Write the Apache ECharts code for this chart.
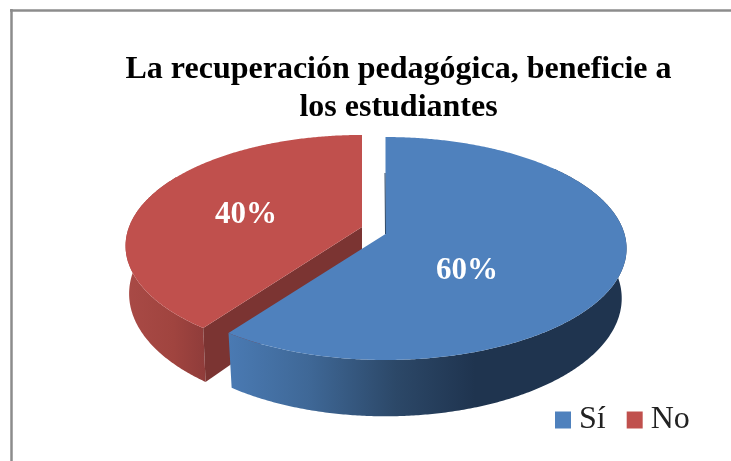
<!DOCTYPE html>
<html>
<head>
<meta charset="utf-8">
<style>html,body{margin:0;padding:0;background:#fff}#c{width:731px;height:461px}</style>
<script src="https://cdn.jsdelivr.net/npm/echarts@6/dist/echarts.min.js"></script>
</head>
<body>
<div id="c"></div>
<script>
const categories = ['Sí', 'No'];
const values = [60, 40];
const titleLines = ['La recuperación pedagógica, beneficie a', 'los estudiantes'];

const colors = ['#4F81BD', '#C0504D'];
const serif = '"Liberation Serif","Times New Roman",serif';
// perspective projection of each slice's disc on the screen
const proj = [
  {cx: 385.5, cy: 234, A: 239, B: 109.6, k: 0.13, depth: 49, shrink: 0.98, wall: [50, 216]},
  {cx: 362, cy: 227, A: 233, B: 107.7, k: 0.17, depth: 46.5, shrink: 0.985, wall: [216, 300]}
];
const labelPos = [[467, 271], [246, 215]];
const wallFill = [
  [[0, '#4A7AB3'], [0.2, '#3F6897'], [0.42, '#2C4868'], [0.62, '#1F344F'], [1, '#1F344F']],
  [[0, '#A94A46'], [0.6, '#A0443F'], [1, '#8F3C3A']]
];
const cutFill = ['#1F344F', '#7B3432'];

const total = values.reduce((a, b) => a + b, 0);
function sliceRange(i) {
  let s = 0;
  for (let j = 0; j < i; j++) s += values[j];
  return [s / total * 360, (s + values[i]) / total * 360];
}
function disc(p, u, v) {
  const d = 1 - p.k * v;
  return [p.cx + p.A * u / d, p.cy + p.B * v / d];
}
function rim(p, deg) {
  const t = deg * Math.PI / 180;
  return disc(p, Math.sin(t), -Math.cos(t));
}
function drop(p, u, v) {
  const d = 1 - p.k * v;
  return [p.cx + p.shrink * p.A * u / d, p.cy + p.B * v / d + p.depth / d];
}
function rimDrop(p, deg) {
  const t = deg * Math.PI / 180;
  return drop(p, Math.sin(t), -Math.cos(t));
}
function arc(fn, p, a, b) {
  const pts = [];
  const n = Math.ceil(Math.abs(b - a) * 2);
  for (let i = 0; i <= n; i++) pts.push(fn(p, a + (b - a) * i / n));
  return pts;
}
function renderSlice(i) {
  return function () {
    const p = proj[i];
    const [a, b] = sliceRange(i);
    const children = [];
    // outer wall
    const wallTop = arc(rim, p, p.wall[0], p.wall[1]);
    const wallBot = arc(rimDrop, p, p.wall[0], p.wall[1]).reverse();
    children.push({
      type: 'polygon',
      shape: {points: wallTop.concat(wallBot)},
      style: {fill: new echarts.graphic.LinearGradient(0, 0, 1, 0,
        wallFill[i].map(s => ({offset: s[0], color: s[1]})))}
    });
    // cut face of the exploded slice
    if (i === 1) {
      children.push({
        type: 'polygon',
        shape: {points: [disc(p, 0, 0), rim(p, a), rimDrop(p, a), drop(p, 0, 0)]},
        style: {fill: cutFill[i]}
      });
    }
    // top face
    children.push({
      type: 'polygon',
      shape: {points: [disc(p, 0, 0)].concat(arc(rim, p, a, b))},
      style: {fill: colors[i]}
    });
    if (i === 0) {
      const s = disc(p, 0, -0.6), e = disc(p, 0, 0);
      children.push({
        type: 'line',
        shape: {x1: s[0] - 0.5, y1: s[1], x2: e[0], y2: e[1]},
        style: {stroke: '#2C4868', lineWidth: 1}
      });
    }
    children.push({
      type: 'text',
      x: labelPos[i][0], y: labelPos[i][1],
      style: {
        text: values[i] + '%', fill: '#fff', font: 'bold 31px ' + serif,
        align: 'center', verticalAlign: 'middle'
      }
    });
    return {type: 'group', children};
  };
}

const chart = echarts.init(document.getElementById('c'), null, {renderer: 'canvas'});
chart.setOption({
  animation: false,
  backgroundColor: '#fff',
  color: colors,
  title: {
    text: titleLines.join('\n'),
    left: 398.5, top: 51, textAlign: 'center', padding: 0,
    textStyle: {fontFamily: serif, fontWeight: 'bold', fontSize: 32, lineHeight: 38, color: '#000'}
  },
  legend: {
    left: 555, top: 404, padding: 0, icon: 'rect', itemWidth: 16, itemHeight: 17, itemGap: 21,
    data: categories,
    selectedMode: false,
    textStyle: {fontFamily: serif, fontSize: 32, color: '#222', padding: [0, 0, 0, 3]}
  },
  graphic: [
    {type: 'line', shape: {x1: 10, y1: 10.5, x2: 731, y2: 10.5}, style: {stroke: '#8C8C8C', lineWidth: 2.5}},
    {type: 'line', shape: {x1: 11.5, y1: 9, x2: 11.5, y2: 461}, style: {stroke: '#8C8C8C', lineWidth: 2.5}}
  ],
  series: categories.map((name, i) => ({
    type: 'custom',
    name,
    coordinateSystem: 'none',
    z: 3 - i,
    silent: true,
    data: [values[i]],
    renderItem: renderSlice(i)
  }))
});
</script>
</body>
</html>
